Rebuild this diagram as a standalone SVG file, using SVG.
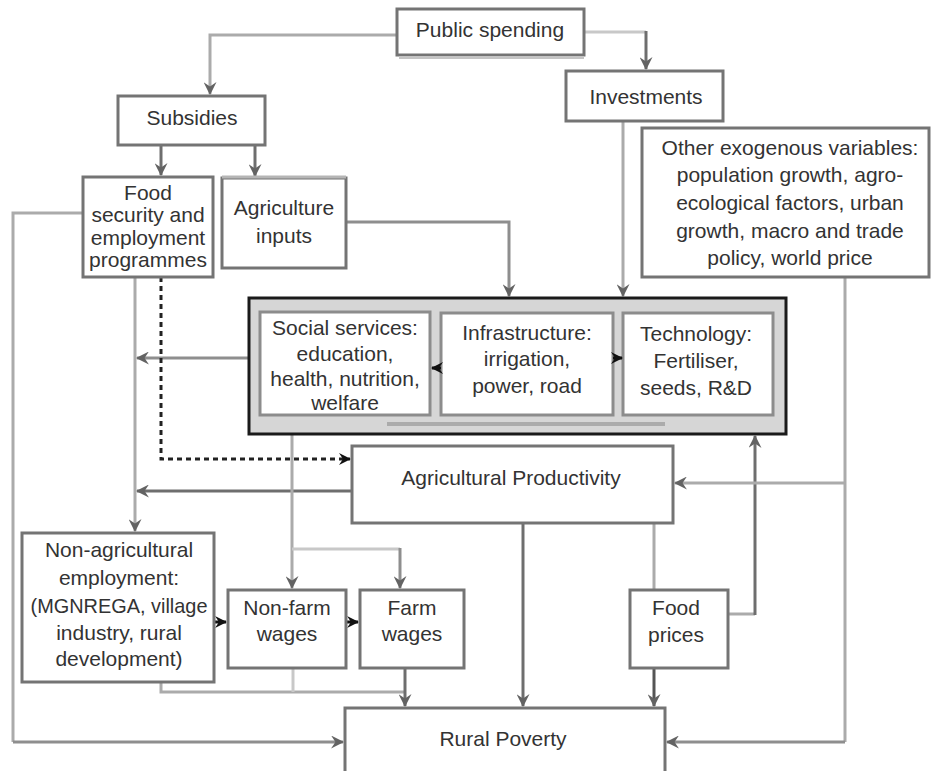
<svg xmlns="http://www.w3.org/2000/svg" width="932" height="771" viewBox="0 0 932 771">
<defs>
<style>
.box{fill:#fff;stroke:#747474;stroke-width:3}
.inner{fill:#fff;stroke:#8c8c8c;stroke-width:3}
.t{font-family:"Liberation Sans",Arial,sans-serif;font-size:21px;fill:#333;text-anchor:middle;dominant-baseline:central}
.c{fill:none;stroke-width:3}
.d{stroke:#6e6e6e}
.m{stroke:#8e8e8e}
.l{stroke:#ababab}
.ll{stroke:#c8c8c8}
</style>
<marker id="ag" viewBox="0 0 12 12" markerWidth="13" markerHeight="13" refX="11" refY="6" orient="auto" markerUnits="userSpaceOnUse">
<path d="M0,0 L12,6 L0,12 L4,6 z" fill="#636363"/>
</marker>
<marker id="ab" viewBox="0 0 12 12" markerWidth="12" markerHeight="12" refX="11" refY="6" orient="auto" markerUnits="userSpaceOnUse">
<path d="M0,0 L12,6 L0,12 L4,6 z" fill="#111"/>
</marker>
</defs>
<rect width="932" height="771" fill="#fff"/>

<g id="connectors">
<polyline class="c l" points="397,35 210,35 210,94" marker-end="url(#ag)"/>
<polyline class="c ll" points="584,32 646,32"/>
<polyline class="c d" points="646,31 646,69" marker-end="url(#ag)"/>
<polyline class="c d" points="161,145 161,175" marker-end="url(#ag)"/>
<polyline class="c d" points="255,145 255,176" marker-end="url(#ag)"/>
<polyline class="c m" points="346,222 509,222 509,296" marker-end="url(#ag)"/>
<polyline class="c l" points="623,121 623,296" marker-end="url(#ag)"/>
<polyline class="c l" points="83,213 13,213 13,742"/>
<polyline class="c m" points="13,742 343,742" marker-end="url(#ag)"/>
<polyline class="c l" points="135,277 135,531" marker-end="url(#ag)"/>
<polyline class="c m" points="249,358 137,358" marker-end="url(#ag)"/>
<polyline class="c" stroke="#222" stroke-dasharray="5,4" points="161,277 161,459 350,459" marker-end="url(#ab)"/>
<polyline class="c d" points="352,491 137,491" marker-end="url(#ag)"/>
<polyline class="c l" points="292,417 292,588" marker-end="url(#ag)"/>
<polyline class="c ll" points="292,549 400,549"/>
<polyline class="c m" points="400,548 400,588" marker-end="url(#ag)"/>
<polyline class="c" stroke="#111" points="214,622 226,622" marker-end="url(#ab)"/>
<polyline class="c" stroke="#111" points="346,622 358,622" marker-end="url(#ab)"/>
<polyline class="c l" points="161,682 161,692 405,692"/>
<polyline class="c ll" points="293,668 293,692"/>
<polyline class="c d" points="405,668 405,706" marker-end="url(#ag)"/>
<polyline class="c d" points="523,523 523,706" marker-end="url(#ag)"/>
<polyline class="c l" points="654,523 654,590"/>
<polyline class="c" stroke="#555" points="654,668 654,706" marker-end="url(#ag)"/>
<polyline class="c l" points="728,614 755,614"/>
<polyline class="c d" points="755,615 755,436" marker-end="url(#ag)"/>
<polyline class="c l" points="845,277 845,742"/>
<polyline class="c m" points="845,742 667,742" marker-end="url(#ag)"/>
<polyline class="c l" points="845,483 675,483" marker-end="url(#ag)"/>
</g>

<g id="public-spending">
<rect class="box" x="397" y="9" width="187" height="46"/>
<line x1="399" y1="57.5" x2="584" y2="57.5" stroke="#c4c4c4" stroke-width="3"/>
<text class="t" x="490" y="29">Public spending</text>
</g>
<g id="subsidies">
<rect class="box" x="118" y="96" width="147" height="49"/>
<text class="t" x="192" y="117">Subsidies</text>
</g>
<g id="investments">
<rect class="box" x="566" y="71" width="157" height="50"/>
<text class="t" x="646" y="96">Investments</text>
</g>
<g id="food-security">
<rect class="box" x="83" y="177" width="130" height="100"/>
<text class="t" x="148" y="192" font-size="20.5">Food</text>
<text class="t" x="148" y="214" font-size="20.5">security and</text>
<text class="t" x="148" y="237" font-size="20.5">employment</text>
<text class="t" x="148" y="259" font-size="20.5">programmes</text>
</g>
<g id="agriculture-inputs">
<rect class="box" x="222" y="178" width="124" height="90"/>
<line x1="222" y1="177" x2="346" y2="177" stroke="#b5b5b5" stroke-width="3"/>
<text class="t" x="284" y="207">Agriculture</text>
<text class="t" x="284" y="235">inputs</text>
</g>
<g id="other-exogenous">
<rect class="box" x="642" y="128" width="287" height="149"/>
<text class="t" x="790" y="147">Other exogenous variables:</text>
<text class="t" x="790" y="174">population growth, agro-</text>
<text class="t" x="790" y="202">ecological factors, urban</text>
<text class="t" x="790" y="230">growth, macro and trade</text>
<text class="t" x="790" y="257">policy, world price</text>
</g>
<g id="public-goods-group">
<rect x="249" y="298" width="537" height="136" fill="#d6d6d6" stroke="#1a1a1a" stroke-width="3"/>
<line x1="387" y1="424" x2="665" y2="424" stroke="#ababab" stroke-width="4"/>
</g>
<g id="social-services">
<rect class="inner" x="260" y="312" width="170" height="103"/>
<text class="t" x="345" y="327">Social services:</text>
<text class="t" x="345" y="353">education,</text>
<text class="t" x="345" y="378">health, nutrition,</text>
<text class="t" x="345" y="402">welfare</text>
</g>
<g id="infrastructure">
<rect class="inner" x="441" y="313" width="172" height="102"/>
<text class="t" x="527" y="332">Infrastructure:</text>
<text class="t" x="527" y="358">irrigation,</text>
<text class="t" x="527" y="385">power, road</text>
</g>
<g id="technology">
<rect class="inner" x="623" y="313" width="150" height="102"/>
<text class="t" x="696" y="333">Technology:</text>
<text class="t" x="696" y="360">Fertiliser,</text>
<text class="t" x="696" y="387">seeds, R&amp;D</text>
</g>
<g id="inner-arrows">
<polyline class="c" stroke="#111" points="441,368 432,368" marker-end="url(#ab)"/>
<polyline class="c" stroke="#111" points="613,358 622,358" marker-end="url(#ab)"/>
</g>
<g id="agricultural-productivity">
<rect class="box" x="352" y="446" width="321" height="77"/>
<text class="t" x="511" y="477" font-size="22">Agricultural Productivity</text>
</g>
<g id="non-agricultural-employment">
<rect class="box" x="22" y="533" width="192" height="149"/>
<text class="t" x="119" y="549">Non-agricultural</text>
<text class="t" x="119" y="577">employment:</text>
<text class="t" x="119" y="605" textLength="177" lengthAdjust="spacingAndGlyphs">(MGNREGA, village</text>
<text class="t" x="119" y="632">industry, rural</text>
<text class="t" x="119" y="658">development)</text>
</g>
<g id="non-farm-wages">
<rect class="box" x="228" y="590" width="118" height="78"/>
<text class="t" x="287" y="607">Non-farm</text>
<text class="t" x="287" y="633">wages</text>
</g>
<g id="farm-wages">
<rect class="box" x="360" y="590" width="104" height="78"/>
<text class="t" x="412" y="607">Farm</text>
<text class="t" x="412" y="633">wages</text>
</g>
<g id="food-prices">
<rect class="box" x="630" y="590" width="98" height="78"/>
<text class="t" x="676" y="607">Food</text>
<text class="t" x="676" y="634">prices</text>
</g>
<g id="rural-poverty">
<rect class="box" x="345" y="708" width="320" height="80"/>
<text class="t" x="503" y="738" font-size="22">Rural Poverty</text>
</g>
</svg>
